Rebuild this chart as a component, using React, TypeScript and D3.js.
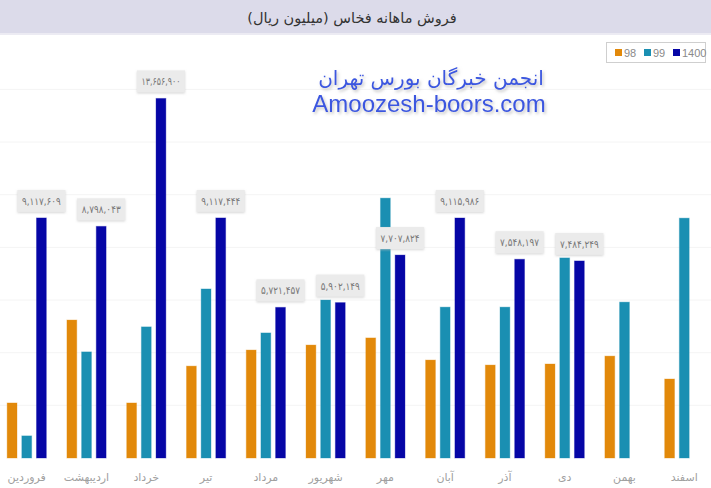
import React from "react";
import * as d3 from "d3";

// Monthly sales (million rial), Persian calendar months
const months = ["فروردین", "اردیبهشت", "خرداد", "تیر", "مرداد", "شهریور", "مهر", "آبان", "آذر", "دی", "بهمن", "اسفند"];
const seriesNames = ["98", "99", "1400"];
const sales98 = [2090000, 5240000, 2090000, 3490000, 4100000, 4290000, 4560000, 3720000, 3530000, 3570000, 3870000, 3000000];
const sales99 = [840000, 4030000, 4980000, 6420000, 4750000, 6000000, 9870000, 5730000, 5730000, 7600000, 5920000, 9110000];
const sales1400 = [9117609, 8798043, 13656900, 9117444, 5721457, 5902149, 7707824, 9115986, 7548197, 7484249, null, null];
const gridTicks = [2000000, 4000000, 6000000, 8000000, 10000000, 12000000, 14000000];

const colors = ["#e2890a", "#1a8fb2", "#0606a6"];
const W = 711;
const H = 488;
const fa = "DejaVu Sans, sans-serif";

const toPersian = (n: number) =>
  d3.format(",")(n).replace(/[0-9]/g, (d) => "۰۱۲۳۴۵۶۷۸۹"[+d]);

export default function App() {
  const x = d3.scaleBand<string>().domain(months).range([-3, 714]).paddingInner(0.345).paddingOuter(0.17);
  const xi = d3.scaleBand<string>().domain(seriesNames).range([0, x.bandwidth()]).paddingInner(0.33);
  const y = d3.scaleLinear().domain([0, 14000000]).range([458, 89.4]);
  const series = [sales98, sales99, sales1400];

  return (
    <svg width={W} height={H} style={{ position: "absolute", left: 0, top: 0, background: "#fff" }}>
      <defs>
        <filter id="wm" x="-10%" y="-30%" width="120%" height="160%">
          <feDropShadow dx="1.5" dy="2" stdDeviation="1.5" floodColor="#999" floodOpacity="0.6" />
        </filter>
        <filter id="lbl" x="-20%" y="-30%" width="140%" height="170%">
          <feDropShadow dx="0" dy="1" stdDeviation="1" floodColor="#bbb" floodOpacity="0.6" />
        </filter>
      </defs>

      {/* title band */}
      <rect x={0} y={0} width={W} height={33} fill="#dcdbea" />
      <rect x={0} y={33} width={W} height={2} fill="#ecebf3" />
      <text x={352} y={23} textAnchor="middle" fontFamily={fa} fontSize={14.5} fill="#333" direction="rtl">
        فروش ماهانه فخاس (میلیون ریال)
      </text>

      {/* gridlines */}
      {gridTicks.map((t) => (
        <line key={t} x1={0} x2={W} y1={y(t)} y2={y(t)} stroke="#f4f4f4" strokeWidth={1} />
      ))}

      {/* bars */}
      {months.map((m, i) => (
        <g key={m} transform={`translate(${x(m)},0)`}>
          {series.map((s, k) =>
            s[i] == null ? null : (
              <rect
                key={k}
                x={xi(seriesNames[k])}
                y={y(s[i] as number)}
                width={xi.bandwidth()}
                height={y(0) - y(s[i] as number)}
                fill={colors[k]}
                stroke={colors[k]}
                strokeOpacity={0.35}
                strokeWidth={1}
              />
            )
          )}
        </g>
      ))}

      {/* value labels on 1400 bars */}
      {months.map((m, i) => {
        const v = sales1400[i];
        if (v == null) return null;
        const cx = (x(m) as number) + (xi("1400") as number) + xi.bandwidth() / 2;
        const top = y(v);
        return (
          <g key={"l" + m}>
            <rect x={cx - 24} y={top - 28} width={48} height={22} fill="#ebebeb" filter="url(#lbl)" />
            <text
              x={cx - 19.5}
              y={top - 13}
              fontFamily={fa}
              fontSize={10.5}
              fill="#777"
              textLength={39}
              lengthAdjust="spacingAndGlyphs"
            >
              {toPersian(v)}
            </text>
          </g>
        );
      })}

      {/* month labels */}
      {months.map((m) => (
        <text
          key={"x" + m}
          x={(x(m) as number) + x.bandwidth() / 2}
          y={481}
          textAnchor="middle"
          fontFamily={fa}
          fontSize={11}
          fill="#a0a0a0"
        >
          {m}
        </text>
      ))}

      {/* legend */}
      <rect x={606.5} y={42.5} width={99} height={20} fill="#fff" stroke="#cfcfcf" />
      {seriesNames.map((n, k) => {
        const lx = [615, 644, 673][k];
        return (
          <g key={n}>
            <rect x={lx} y={49} width={7} height={7} fill={colors[k]} />
            <text x={lx + 9} y={56.5} fontFamily="Liberation Sans, Arial, sans-serif" fontSize={11} fill="#8a8a8a">
              {n}
            </text>
          </g>
        );
      })}

      {/* watermark */}
      <g filter="url(#wm)">
        <text x={431} y={85} textAnchor="middle" fontFamily={fa} fontSize={20} fill="#3a57e0" direction="rtl">
          انجمن خبرگان بورس تهران
        </text>
        <text x={429} y={112} textAnchor="middle" fontFamily="Liberation Sans, Arial, sans-serif" fontSize={24} fill="#3a57e0">
          Amoozesh-boors.com
        </text>
      </g>
    </svg>
  );
}
